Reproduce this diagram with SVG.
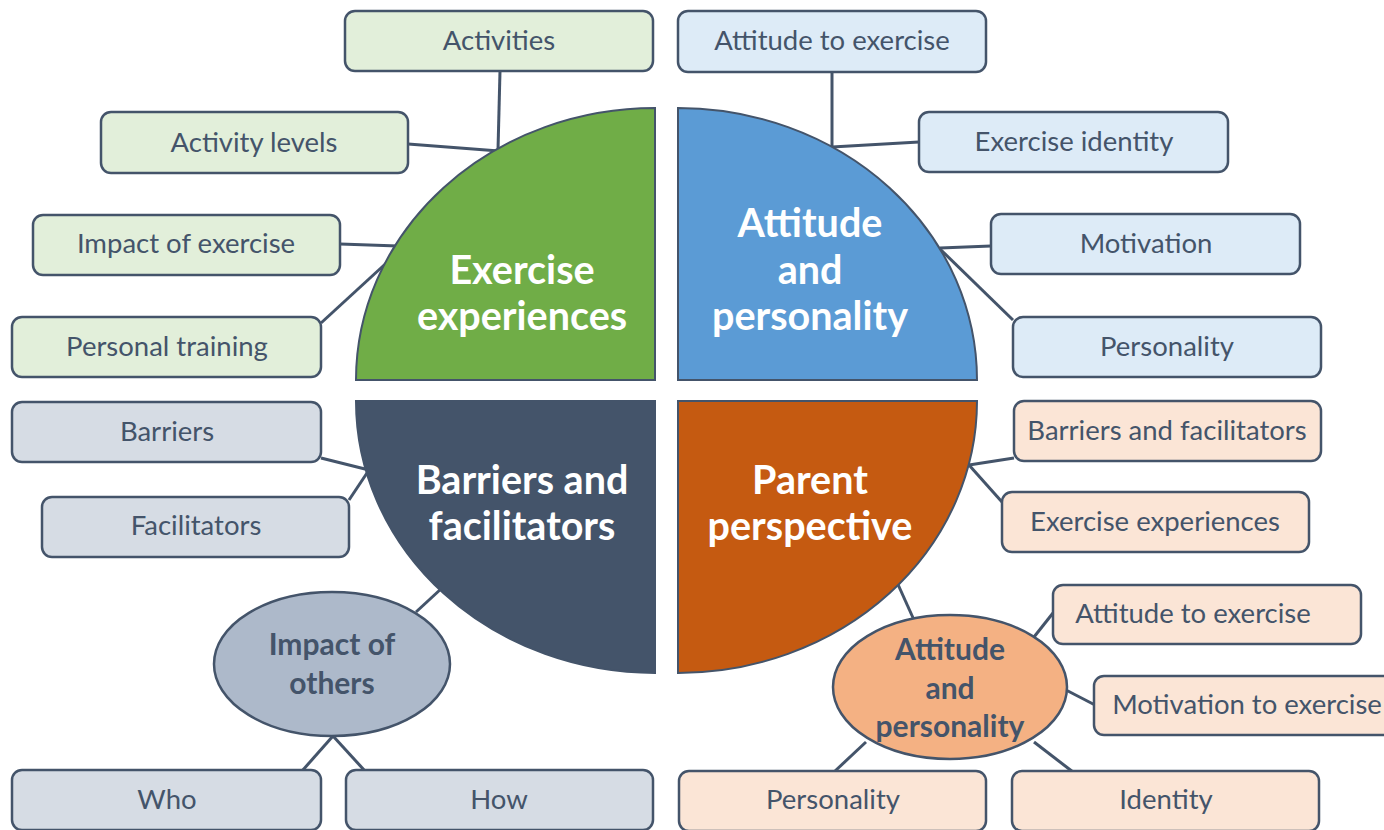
<svg xmlns="http://www.w3.org/2000/svg" width="1384" height="830" viewBox="0 0 1384 830">
<style>
.box{stroke:#44546A;stroke-width:2.5}
.g{fill:#E2EFDA}.b{fill:#DDEBF7}.s{fill:#D6DCE4}.p{fill:#FBE5D6}
.t{font-family:Lato,"Liberation Sans",sans-serif;font-size:27.5px;fill:#44546A;text-anchor:middle}
.q{font-family:Lato,"Liberation Sans",sans-serif;font-size:39.5px;font-weight:bold;fill:#FFFFFF;text-anchor:middle}
.e{font-family:Lato,"Liberation Sans",sans-serif;font-size:30px;font-weight:bold;fill:#44546A;text-anchor:middle}
.c line{stroke:#44546A;stroke-width:3}
.quad{stroke:#44546A;stroke-width:2}
</style>
<rect width="1384" height="830" fill="#FFFFFF"/>
<g id="connectors" class="c">
<line x1="500" y1="71" x2="498" y2="150"/>
<line x1="408" y1="144" x2="499" y2="151"/>
<line x1="340" y1="244" x2="398" y2="246"/>
<line x1="321" y1="323" x2="394" y2="256"/>
<line x1="832" y1="72" x2="832" y2="148"/>
<line x1="832" y1="147" x2="919" y2="142"/>
<line x1="940" y1="248" x2="991" y2="246"/>
<line x1="940" y1="249" x2="1013" y2="320"/>
<line x1="321" y1="458" x2="369" y2="470"/>
<line x1="369" y1="470" x2="349" y2="500"/>
<line x1="416" y1="612" x2="442" y2="588"/>
<line x1="333" y1="736" x2="302" y2="771"/>
<line x1="333" y1="736" x2="365" y2="771"/>
<line x1="969" y1="465" x2="1014" y2="458"/>
<line x1="969" y1="465" x2="1002" y2="502"/>
<line x1="896" y1="580" x2="914" y2="620"/>
<line x1="1034" y1="637" x2="1053" y2="613"/>
<line x1="1066" y1="690" x2="1095" y2="705"/>
<line x1="866" y1="742" x2="834" y2="772"/>
<line x1="1034" y1="742" x2="1073" y2="772"/>
</g>
<g id="exercise-experiences">
<path class="quad" d="M655,380 L356,380 A299,272 0 0 1 655,108 Z" fill="#70AD47"/>
<text class="q" x="522" y="284">Exercise</text>
<text class="q" x="522" y="330">experiences</text>
</g>
<g id="attitude-personality">
<path class="quad" d="M678,380 L678,108 A299,272 0 0 1 977,380 Z" fill="#5B9BD5"/>
<text class="q" x="810" y="237">Attitude</text>
<text class="q" x="810" y="284">and</text>
<text class="q" x="810" y="330">personality</text>
</g>
<g id="barriers-facilitators">
<path class="quad" d="M655,401 L655,673 A299,272 0 0 1 356,401 Z" fill="#44546A"/>
<text class="q" x="522" y="494">Barriers and</text>
<text class="q" x="522" y="540">facilitators</text>
</g>
<g id="parent-perspective">
<path class="quad" d="M678,401 L977,401 A299,272 0 0 1 678,673 Z" fill="#C55A11"/>
<text class="q" x="810" y="494">Parent</text>
<text class="q" x="810" y="540">perspective</text>
</g>
<g id="activities"><rect class="box g" x="345" y="11" width="308" height="60" rx="10"/><text class="t" x="499" y="50">Activities</text></g>
<g id="activity-levels"><rect class="box g" x="101" y="112" width="307" height="61" rx="10"/><text class="t" x="254" y="152">Activity levels</text></g>
<g id="impact-of-exercise"><rect class="box g" x="33" y="215" width="307" height="60" rx="10"/><text class="t" x="186" y="253">Impact of exercise</text></g>
<g id="personal-training"><rect class="box g" x="12" y="317" width="309" height="60" rx="10"/><text class="t" x="167" y="356">Personal training</text></g>
<g id="attitude-to-exercise"><rect class="box b" x="678" y="11" width="308" height="61" rx="10"/><text class="t" x="832" y="50">Attitude to exercise</text></g>
<g id="exercise-identity"><rect class="box b" x="919" y="112" width="309" height="60" rx="10"/><text class="t" x="1074" y="151">Exercise identity</text></g>
<g id="motivation"><rect class="box b" x="991" y="214" width="309" height="60" rx="10"/><text class="t" x="1146" y="253">Motivation</text></g>
<g id="personality"><rect class="box b" x="1013" y="317" width="308" height="60" rx="10"/><text class="t" x="1167" y="356">Personality</text></g>
<g id="barriers"><rect class="box s" x="12" y="402" width="309" height="60" rx="10"/><text class="t" x="167" y="441">Barriers</text></g>
<g id="facilitators"><rect class="box s" x="42" y="497" width="307" height="60" rx="10"/><text class="t" x="196" y="535">Facilitators</text></g>
<g id="impact-of-others">
<ellipse cx="332" cy="664" rx="118" ry="72" fill="#ADB9CA" stroke="#44546A" stroke-width="2.5"/>
<text class="e" x="332" y="655">Impact of</text>
<text class="e" x="332" y="694">others</text>
</g>
<g id="who"><rect class="box s" x="12" y="770" width="309" height="60" rx="10"/><text class="t" x="167" y="809">Who</text></g>
<g id="how"><rect class="box s" x="346" y="770" width="307" height="60" rx="10"/><text class="t" x="499" y="809">How</text></g>
<g id="pp-barriers-facilitators"><rect class="box p" x="1014" y="401" width="307" height="60" rx="10"/><text class="t" x="1167" y="440">Barriers and facilitators</text></g>
<g id="pp-exercise-experiences"><rect class="box p" x="1002" y="492" width="307" height="60" rx="10"/><text class="t" x="1155" y="531">Exercise experiences</text></g>
<g id="pp-attitude-personality">
<ellipse cx="950" cy="687" rx="117" ry="72" fill="#F4B183" stroke="#44546A" stroke-width="2.5"/>
<text class="e" x="950" y="660">Attitude</text>
<text class="e" x="950" y="699">and</text>
<text class="e" x="950" y="737">personality</text>
</g>
<g id="pp-attitude-to-exercise"><rect class="box p" x="1053" y="585" width="308" height="59" rx="10"/><text class="t" x="1193" y="623">Attitude to exercise</text></g>
<g id="pp-motivation-to-exercise"><rect class="box p" x="1094" y="676" width="310" height="59" rx="10"/><text class="t" x="1247" y="714">Motivation to exercise</text></g>
<g id="pp-personality"><rect class="box p" x="679" y="771" width="307" height="60" rx="10"/><text class="t" x="833" y="809">Personality</text></g>
<g id="pp-identity"><rect class="box p" x="1012" y="771" width="307" height="60" rx="10"/><text class="t" x="1166" y="809">Identity</text></g>
</svg>
